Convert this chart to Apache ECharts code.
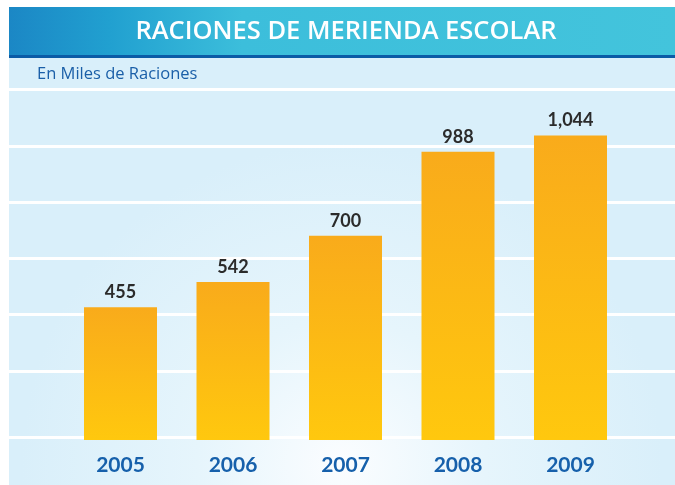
<!DOCTYPE html>
<html>
<head>
<meta charset="utf-8">
<script src="https://cdn.jsdelivr.net/npm/echarts@6/dist/echarts.min.js"></script>
<style>
  html, body { margin: 0; padding: 0; background: #ffffff; }
  #chart { width: 675px; height: 485px; }
</style>
</head>
<body>
<div id="chart"></div>
<script>
// School snack rations, in thousands
const years = ['2005', '2006', '2007', '2008', '2009'];
const raciones = [455, 542, 700, 988, 1044];
const chartTitle = 'RACIONES DE MERIENDA ESCOLAR';
const unitNote = 'En Miles de Raciones';

const chart = echarts.init(document.getElementById('chart'));

const fmt = v => v.toLocaleString('en-US');

chart.setOption({
  backgroundColor: '#ffffff',
  animation: false,
  graphic: [
    // panel background with a soft bright spot near the bottom
    {
      type: 'rect', z: -100, silent: true,
      shape: { x: 9, y: 58, width: 666, height: 427 },
      style: {
        fill: {
          type: 'radial', x: 0.5, y: 0.95, r: 0.75,
          colorStops: [
            { offset: 0, color: '#fbfdff' },
            { offset: 0.45, color: '#e6f5fc' },
            { offset: 1, color: '#d9effa' }
          ]
        }
      }
    },
    // header band
    {
      type: 'rect', z: -90, silent: true,
      shape: { x: 9, y: 7, width: 666, height: 48 },
      style: {
        fill: {
          type: 'linear', x: 0, y: 0, x2: 1, y2: 0,
          colorStops: [
            { offset: 0, color: '#1b87c5' },
            { offset: 0.15, color: '#21a0d0' },
            { offset: 0.35, color: '#3cbedb' },
            { offset: 1, color: '#43c4dc' }
          ]
        }
      }
    },
    {
      type: 'rect', z: -90, silent: true,
      shape: { x: 9, y: 55, width: 666, height: 3 },
      style: { fill: '#0b5ba6' }
    },
    {
      type: 'text', z: 10, silent: true,
      x: 346, y: 32,
      style: {
        text: chartTitle, fill: '#ffffff',
        font: '600 25.5px "Open Sans", sans-serif',
        textAlign: 'center', textVerticalAlign: 'middle'
      }
    },
    {
      type: 'text', z: 10, silent: true,
      x: 37, y: 74,
      style: {
        text: unitNote, fill: '#1a5fa8',
        font: '16.5px "Open Sans", sans-serif',
        textAlign: 'left', textVerticalAlign: 'middle'
      }
    }
  ],
  grid: [
    { left: 64.25, right: 48.25, top: 90, bottom: 45 },
    // white band separators
    { left: 9, right: 0, top: 89.5, bottom: 114 },
    // full-width baseline
    { left: 9, right: 0, top: 400, bottom: 47.5 }
  ],
  xAxis: [
    {
      gridIndex: 0,
      type: 'category',
      data: years,
      axisLine: { show: false },
      axisTick: { show: false },
      axisLabel: {
        margin: 15,
        color: '#1660ab',
        fontFamily: 'Lato, sans-serif',
        fontWeight: 'bold',
        fontSize: 21
      }
    },
    { gridIndex: 1, type: 'value', min: 0, max: 1, show: false },
    {
      gridIndex: 2, type: 'value', min: 0, max: 1,
      axisLine: { show: true, lineStyle: { color: '#ffffff', width: 3 } },
      axisTick: { show: false },
      axisLabel: { show: false },
      splitLine: { show: false }
    }
  ],
  yAxis: [
    {
      gridIndex: 0,
      type: 'value',
      min: 0, max: 1200,
      show: false,
      splitLine: { show: false }
    },
    {
      gridIndex: 1,
      type: 'value',
      min: 0, max: 5, interval: 1,
      axisLine: { show: false },
      axisTick: { show: false },
      axisLabel: { show: false },
      splitLine: { show: true, lineStyle: { color: '#ffffff', width: 3 } }
    },
    { gridIndex: 2, type: 'value', min: 0, max: 1, show: false }
  ],
  series: [
    {
      type: 'bar',
      xAxisIndex: 0, yAxisIndex: 0,
      data: raciones,
      barWidth: 73,
      z: 5,
      itemStyle: {
        color: {
          type: 'linear', x: 0, y: 0, x2: 0, y2: 1,
          colorStops: [
            { offset: 0, color: '#f9ab1b' },
            { offset: 1, color: '#ffc80e' }
          ]
        }
      },
      label: {
        show: true,
        position: 'top',
        distance: 6,
        formatter: p => fmt(p.value),
        color: '#2b2b2b',
        fontFamily: 'Lato, sans-serif',
        fontWeight: 'bold',
        fontSize: 18
      }
    }
  ]
});
</script>
</body>
</html>
